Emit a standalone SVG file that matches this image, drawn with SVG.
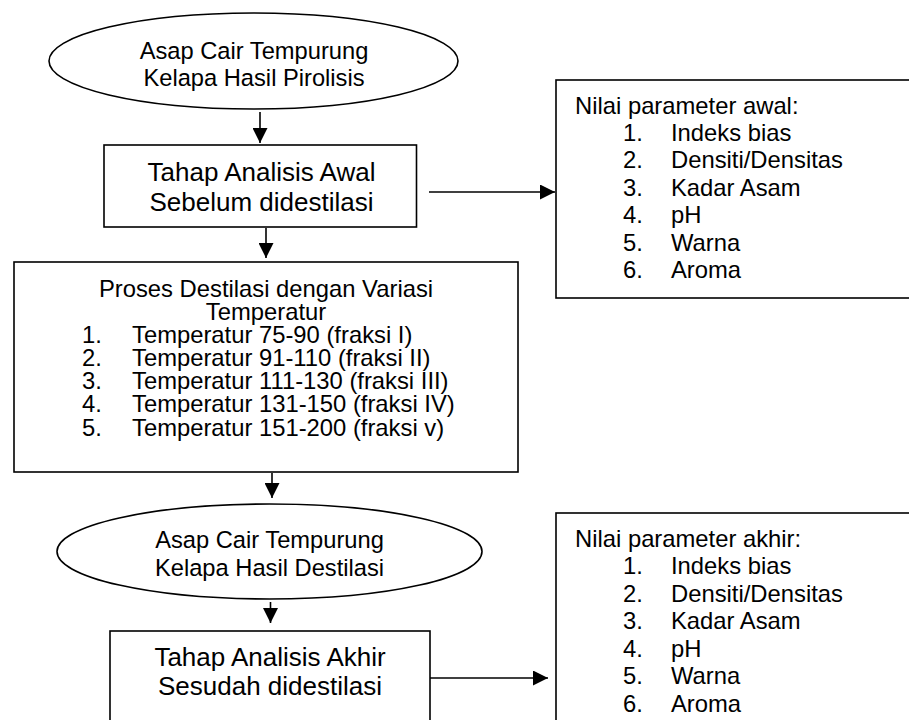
<svg xmlns="http://www.w3.org/2000/svg" width="909" height="720" viewBox="0 0 909 720">
<style>
.shape{fill:#fff;stroke:#000;stroke-width:1.6}
.t{font-family:"Liberation Sans",Arial,sans-serif;fill:#000}
.ell{font-size:23.7px;text-anchor:middle}
.big{font-size:26px;text-anchor:middle}
.mid{font-size:23.8px}
.c{text-anchor:middle}
.conn{stroke:#000;stroke-width:1.6;fill:none}
</style>
<defs>
<marker id="ah" markerUnits="userSpaceOnUse" markerWidth="15" markerHeight="15" refX="15" refY="7.5" orient="auto">
<path d="M0,0 L15,7.5 L0,15 z" fill="#000"/>
</marker>
</defs>
<rect width="909" height="720" fill="#fff"/>

<g id="node-start">
<ellipse class="shape" cx="253.5" cy="61" rx="204.5" ry="48"/>
<text class="t ell" x="254" y="58.5">Asap Cair Tempurung</text>
<text class="t ell" x="254" y="86">Kelapa Hasil Pirolisis</text>
</g>

<g id="node-awal">
<rect class="shape" x="104" y="145" width="312.5" height="82"/>
<text class="t big" x="261.5" y="181">Tahap Analisis Awal</text>
<text class="t big" x="261.5" y="211">Sebelum didestilasi</text>
</g>

<g id="node-param-awal">
<rect class="shape" x="556" y="80" width="400" height="218"/>
<text class="t mid" x="575" y="113.5">Nilai parameter awal:</text>
<text class="t mid" x="623" y="141">1.</text><text class="t mid" x="671" y="141">Indeks bias</text>
<text class="t mid" x="623" y="168.4">2.</text><text class="t mid" x="671" y="168.4">Densiti/Densitas</text>
<text class="t mid" x="623" y="195.9">3.</text><text class="t mid" x="671" y="195.9">Kadar Asam</text>
<text class="t mid" x="623" y="223.3">4.</text><text class="t mid" x="671" y="223.3">pH</text>
<text class="t mid" x="623" y="250.8">5.</text><text class="t mid" x="671" y="250.8">Warna</text>
<text class="t mid" x="623" y="278.2">6.</text><text class="t mid" x="671" y="278.2">Aroma</text>
</g>

<g id="node-destilasi">
<rect class="shape" x="14" y="262" width="504" height="210"/>
<text class="t mid c" x="266" y="296.5">Proses Destilasi dengan Variasi</text>
<text class="t mid c" x="266" y="319.5">Temperatur</text>
<text class="t mid" x="82" y="342.7">1.</text><text class="t mid" x="132" y="342.7">Temperatur 75-90 (fraksi I)</text>
<text class="t mid" x="82" y="365.9">2.</text><text class="t mid" x="132" y="365.9">Temperatur 91-110 (fraksi II)</text>
<text class="t mid" x="82" y="389.1">3.</text><text class="t mid" x="132" y="389.1">Temperatur 111-130 (fraksi III)</text>
<text class="t mid" x="82" y="412.3">4.</text><text class="t mid" x="132" y="412.3">Temperatur 131-150 (fraksi IV)</text>
<text class="t mid" x="82" y="435.5">5.</text><text class="t mid" x="132" y="435.5">Temperatur 151-200 (fraksi v)</text>
</g>

<g id="node-hasil">
<ellipse class="shape" cx="269.5" cy="551.5" rx="212.5" ry="47.5"/>
<text class="t ell" x="269.5" y="548">Asap Cair Tempurung</text>
<text class="t ell" x="269.5" y="575.5">Kelapa Hasil Destilasi</text>
</g>

<g id="node-akhir">
<rect class="shape" x="110" y="631" width="320" height="110"/>
<text class="t big" x="270" y="666">Tahap Analisis Akhir</text>
<text class="t big" x="270" y="694.5">Sesudah didestilasi</text>
</g>

<g id="node-param-akhir">
<rect class="shape" x="556" y="513" width="400" height="250"/>
<text class="t mid" x="575" y="546.7">Nilai parameter akhir:</text>
<text class="t mid" x="623" y="574.2">1.</text><text class="t mid" x="671" y="574.2">Indeks bias</text>
<text class="t mid" x="623" y="601.7">2.</text><text class="t mid" x="671" y="601.7">Densiti/Densitas</text>
<text class="t mid" x="623" y="629.2">3.</text><text class="t mid" x="671" y="629.2">Kadar Asam</text>
<text class="t mid" x="623" y="656.7">4.</text><text class="t mid" x="671" y="656.7">pH</text>
<text class="t mid" x="623" y="684.2">5.</text><text class="t mid" x="671" y="684.2">Warna</text>
<text class="t mid" x="623" y="711.7">6.</text><text class="t mid" x="671" y="711.7">Aroma</text>
</g>

<g id="connectors">
<line class="conn" x1="260" y1="112" x2="260" y2="143" marker-end="url(#ah)"/>
<line class="conn" x1="266" y1="228" x2="266" y2="258" marker-end="url(#ah)"/>
<line class="conn" x1="272" y1="473" x2="272" y2="498" marker-end="url(#ah)"/>
<line class="conn" x1="270.5" y1="602" x2="270.5" y2="623" marker-end="url(#ah)"/>
<line class="conn" x1="429" y1="192" x2="555" y2="192" marker-end="url(#ah)"/>
<line class="conn" x1="430" y1="678" x2="548" y2="678" marker-end="url(#ah)"/>
</g>
</svg>
